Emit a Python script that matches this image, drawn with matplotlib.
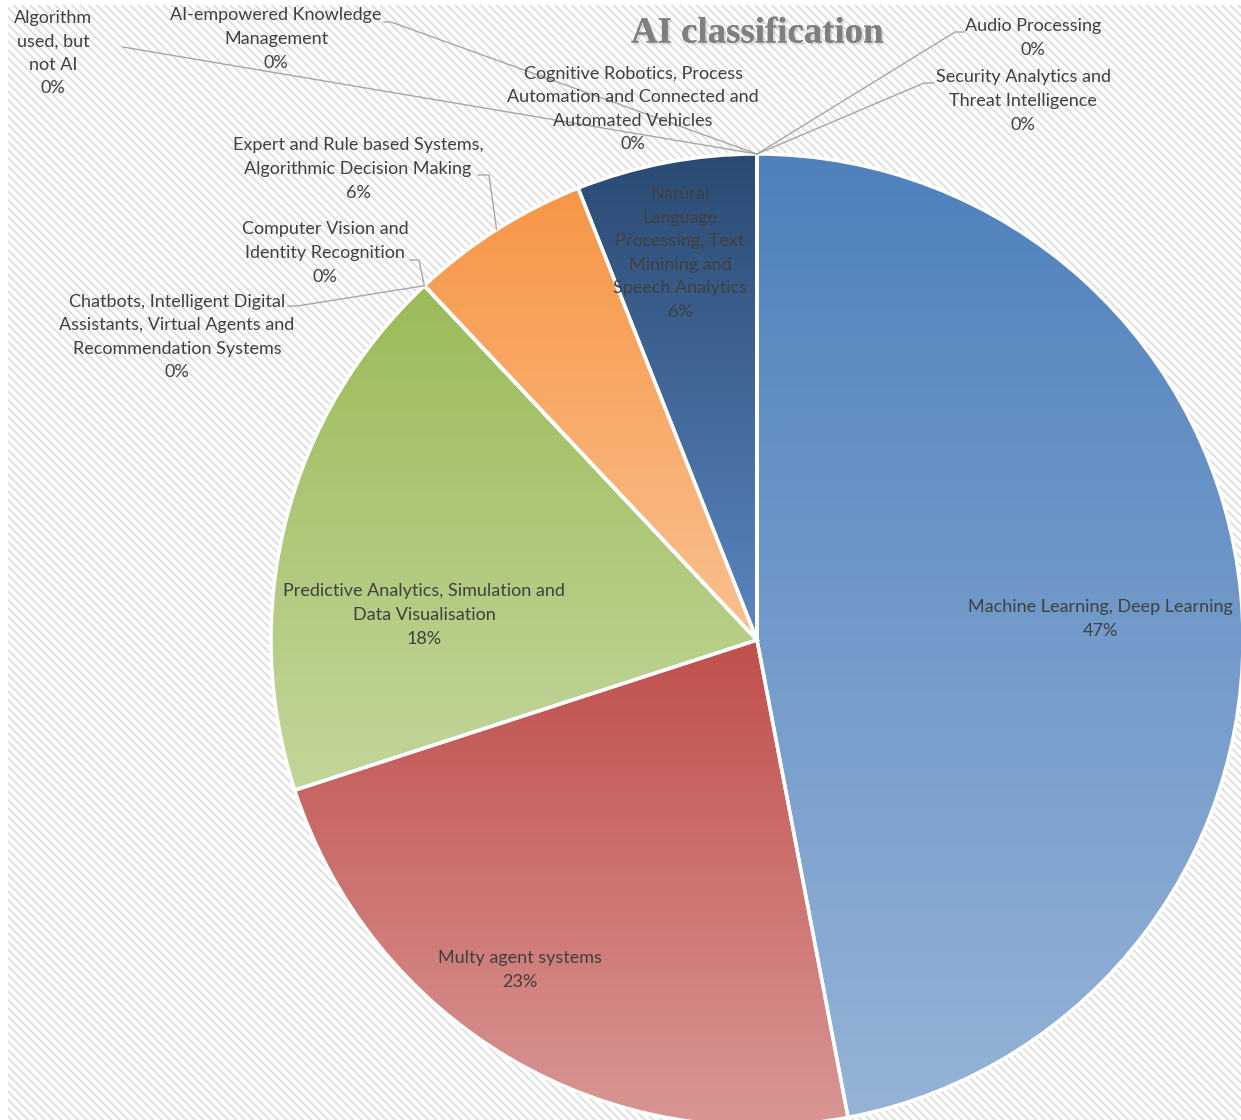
import numpy as np
import matplotlib
matplotlib.use("Agg")
import matplotlib.pyplot as plt
from matplotlib.colors import LinearSegmentedColormap
from matplotlib.patches import Rectangle
import matplotlib.patheffects as pe

# data
categories = [
    "Machine Learning, Deep Learning",
    "Multy agent systems",
    "Predictive Analytics, Simulation and\nData Visualisation",
    "Chatbots, Intelligent Digital\nAssistants, Virtual Agents and\nRecommendation Systems",
    "Computer Vision and\nIdentity Recognition",
    "Expert and Rule based Systems,\nAlgorithmic Decision Making",
    "Natural\nLanguage\nProcessing, Text\nMinining and\nSpeech Analytics",
    "Algorithm\nused, but\nnot AI",
    "AI-empowered Knowledge\nManagement",
    "Cognitive Robotics, Process\nAutomation and Connected and\nAutomated Vehicles",
    "Audio Processing",
    "Security Analytics and\nThreat Intelligence",
]
shares = [47, 23, 18, 0, 0, 6, 6, 0, 0, 0, 0, 0]

# gradient top/bottom per slice
grads = [
    ("#4f81bd", "#95b3d7"),
    ("#c0504d", "#d99694"),
    ("#9bbb59", "#c3d69b"),
    ("#9bbb59", "#c3d69b"),
    ("#9bbb59", "#c3d69b"),
    ("#f79646", "#fac090"),
    ("#2a4a72", "#5b87c0"),
] + [("#4f81bd", "#95b3d7")] * 5

W, H = 1241, 1120
cx, cy, R = 757, 640, 486

plt.rcParams["hatch.linewidth"] = 1.3
fig = plt.figure(figsize=(W / 100, H / 100), dpi=100)
fig.patch.set_facecolor("white")
bg = Rectangle((8 / W, 0), 1 - 8 / W, 1 - 5 / H, transform=fig.transFigure,
               facecolor="white", edgecolor="#dddddd", linewidth=0,
               hatch="\\\\\\\\", zorder=-10)
fig.patches.append(bg)

ax = fig.add_axes([0, 0, 1, 1])
ax.patch.set_visible(False)

wedges, _ = ax.pie(shares, startangle=90, counterclock=False,
                   center=(cx, H - cy), radius=R,
                   wedgeprops=dict(edgecolor="white", linewidth=2.5,
                                   facecolor="none"))

grad = np.linspace(0, 1, 256).reshape(-1, 1)
for w, v, (top, bot) in zip(wedges, shares, grads):
    if v == 0:
        continue
    ext = w.get_path().get_extents()
    cmap = LinearSegmentedColormap.from_list("g", [top, bot])
    im = ax.imshow(grad, extent=(ext.x0, ext.x1, ext.y0, ext.y1),
                   origin="upper", aspect="auto", cmap=cmap, zorder=0.5,
                   interpolation="bilinear")
    im.set_clip_path(w)

# label positions (pixel centers of text blocks)
label_pos = [(1100, 619), (520, 970), (424, 615), (177, 337), (325, 253),
             (358, 169), (680, 253), (53, 53), (276, 39), (633, 109),
             (1033, 38), (1023, 101)]

for name, v, (x, y) in zip(categories, shares, label_pos):
    ax.text(x, H - y, f"{name}\n{v:.0f}%", ha="center", va="center",
            fontsize=13, family="Lato", color="#404040", linespacing=1.58,
            zorder=5)

# leader lines: category index -> elbow points (px)
leaders = {
    3: [(297, 306), (288, 306)],
    4: [(419, 260), (410, 260)],
    5: [(489, 175), (478, 175)],
    7: [(123, 47)],
    8: [(391, 22), (384, 22)],
    10: [(955, 32), (964, 32)],
    11: [(924, 83), (934, 83)],
}
total = sum(shares)
cum = np.cumsum([0] + shares)
for i, pts in leaders.items():
    mid = (cum[i] + shares[i] / 2) / total
    ang = np.deg2rad(90 - mid * 360)
    ax_, ay_ = cx + R * np.cos(ang), (H - cy) + R * np.sin(ang)
    xs = [ax_] + [p[0] for p in pts]
    ys = [ay_] + [H - p[1] for p in pts]
    ax.plot(xs, ys, color="#a6a6a6", lw=1, zorder=4)

ax.text(757, H - 33, "AI classification", ha="center", va="center",
        fontsize=26.5, family="Liberation Serif", fontweight="bold",
        color="#7f7f7f", zorder=5,
        path_effects=[pe.withSimplePatchShadow(offset=(1.5, -1.5),
                                               shadow_rgbFace="#bbbbbb",
                                               alpha=0.5), pe.Normal()])

ax.set_xlim(0, W)
ax.set_ylim(0, H)
ax.set_aspect("auto")
ax.axis("off")

fig.savefig("out.png", dpi=100)
